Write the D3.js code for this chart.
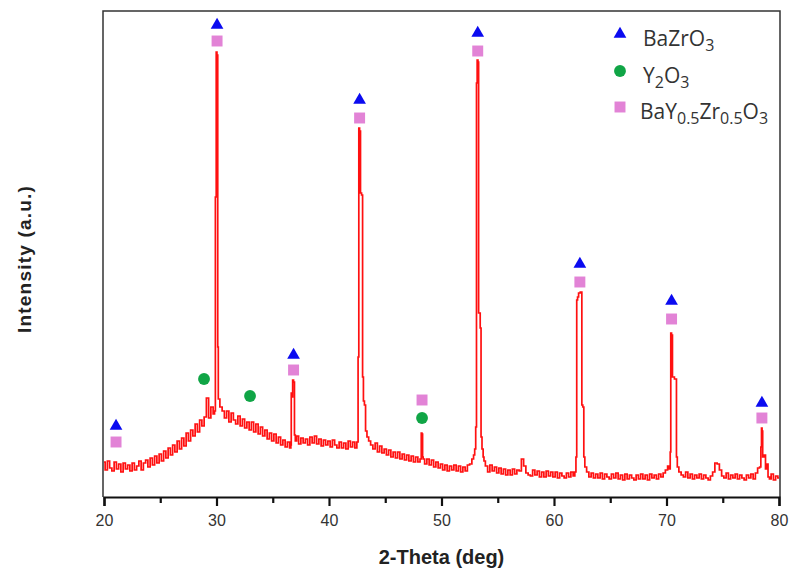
<!DOCTYPE html>
<html>
<head>
<meta charset="utf-8">
<script src="https://cdn.jsdelivr.net/npm/d3@7"></script>
<style>
    body { margin: 0; background: #fff; }
    svg { display: block; }
</style>
</head>
<body>
<svg id="xrd" width="789" height="574"></svg>
<script>
    // скан 20..80 град, шаг 0.2 - фон (интенсивность, у.е.)
    var scanStart = 20,
        scanStep = 0.2;
    var baseCounts = [
        35, 27, 36, 29, 26,  35, 28, 33, 25, 34,  28, 32, 26, 34, 27,  31, 36, 27, 34, 37,
        30, 39, 32, 41, 34,  43, 36, 46, 39, 49,  42, 52, 45, 56, 48,  59, 51, 64, 56, 67,
        61, 73, 65, 77, 71,  80, 99, 79, 90, 83,  90, 98, 90, 86, 79,  86, 75, 84, 77, 73,
        81, 71, 78, 69, 75,  67, 75, 65, 73, 63,  70, 61, 67, 58, 64,  56, 63, 54, 60, 52,
        57, 50, 55, 49, 52,  56, 61, 53, 59, 54,  58, 52, 60, 54, 61,  53, 58, 51, 57, 52,
        56, 50, 57, 52, 49,  55, 49, 54, 48, 56,  50, 55, 49, 55, 57,  60, 58, 59, 56, 52,
        48, 54, 45, 51, 44,  48, 42, 47, 40, 45,  39, 45, 38, 43, 37,  42, 36, 41, 35, 40,
        35, 39, 38, 33, 38,  32, 37, 30, 35, 29,  33, 27, 32, 26, 31,  27, 32, 26, 31, 25,
        30, 26, 32, 33, 38,  40, 42, 44, 40, 36,  31, 25, 32, 26, 30,  24, 29, 23, 28, 22,
        27, 22, 28, 23, 27,  26, 38, 31, 24, 22,  21, 27, 22, 26, 20,  25, 20, 26, 21, 25,
        20, 25, 19, 24, 21,  19, 24, 20, 25, 21,  25, 27, 30, 28, 26,  25, 20, 24, 19, 23,
        19, 24, 18, 23, 20,  18, 23, 19, 24, 18,  22, 17, 23, 18, 22,  19, 17, 22, 18, 23,
        18, 22, 17, 23, 19,  22, 18, 23, 20, 24,  27, 31, 30, 28, 26,  26, 25, 22, 20, 25,
        19, 23, 18, 22, 19,  23, 18, 22, 19, 17,  21, 25, 34, 33, 27,  21, 19, 24, 18, 22,
        19, 23, 18, 22, 19,  17, 22, 19, 23, 18,  24, 29, 30, 25, 22,  20, 18, 23, 17, 21,
        19
    ];

    // рефлексы: [2theta, интенсивность], заменяют фон внутри своего окна
    var peak30 = [[29.85, 86], [29.95, 300], [30.0, 445], [30.08, 442], [30.14, 150], [30.18, 98]];
    var peak37 = [[36.62, 52], [36.67, 104], [36.74, 100], [36.8, 117], [36.9, 115], [36.96, 62], [37.05, 56]];
    var peak43 = [[42.55, 55], [42.62, 140], [42.68, 369], [42.76, 366], [42.84, 304], [42.95, 302],
                  [43.02, 120], [43.1, 96], [43.2, 92], [43.3, 66], [43.45, 60]];
    var peak48 = [[48.18, 38], [48.22, 64], [48.3, 63], [48.34, 40]];
    var peak53 = [[52.9, 42], [53.0, 48], [53.08, 70], [53.14, 414], [53.2, 437], [53.28, 435],
                  [53.32, 184], [53.4, 184], [53.48, 169], [53.55, 60], [53.65, 48], [53.75, 40]];
    var peak62 = [[61.9, 25], [62.0, 40], [62.04, 197], [62.15, 200], [62.22, 204], [62.45, 205],
                  [62.5, 92], [62.62, 90], [62.68, 40], [62.8, 30]];
    var peak70 = [[70.3, 28], [70.36, 45], [70.4, 164], [70.5, 162], [70.56, 120], [70.85, 118],
                  [70.92, 40], [71.0, 30]];
    var peak78 = [[78.35, 30], [78.42, 50], [78.47, 69], [78.52, 66], [78.58, 40], [78.75, 42],
                  [78.85, 28], [78.95, 33], [79.1, 20]];
    var peaks = [peak30, peak37, peak43, peak48, peak53, peak62, peak70, peak78];

    // метки фаз
    var bazroPos = [21.07, 30.05, 36.85, 42.72, 53.22, 62.3, 70.45, 78.48],
        bazroHeight = [71, 472, 142, 397, 464, 233, 196, 94];
    var byzoPos = [21.07, 30.05, 36.85, 42.72, 48.27, 53.22, 62.3, 70.45, 78.48],
        byzoHeight = [55, 456, 127, 379, 97, 446, 215, 178, 79];
    var y2o3Pos = [28.89, 32.98, 48.27],
        y2o3Height = [118, 101, 79];

    var xTicks = [20, 30, 40, 50, 60, 70, 80],
        xMinorTicks = [25, 35, 45, 55, 65, 75];

    var legendItems = [
        { shape: 'triangle', color: '#0b0bf0', parts: [['BaZrO', 0], ['3', 1]] },
        { shape: 'circle', color: '#10a546', parts: [['Y', 0], ['2', 1], ['O', 0], ['3', 1]] },
        { shape: 'square', color: '#e283d6', parts: [['BaY', 0], ['0.5', 1], ['Zr', 0], ['0.5', 1], ['O', 0], ['3', 1]] }
    ];

    var svg = d3.select('#xrd'),
        plotLeft = 104, plotRight = 779, plotTop = 11, plotBottom = 497;

    var x = d3.scaleLinear().domain([20, 80]).range([plotLeft, plotRight]),
        y = d3.scaleLinear().domain([0, 486]).range([plotBottom, plotTop]);

    // собираем кривую: фон + рефлексы
    var points = [];
    baseCounts.forEach(function(v, i) {
        var t = scanStart + i * scanStep;
        var inPeak = peaks.some(function(p) { return t >= p[0][0] - 1e-6 && t <= p[p.length - 1][0] + 1e-6; });
        if (!inPeak) points.push([t, v]);
    });
    peaks.forEach(function(p) { points = points.concat(p); });
    points.sort(function(a, b) { return a[0] - b[0]; });

    // рамка
    svg.append('path')
        .attr('d', 'M' + (plotLeft - 1) + ',' + plotBottom + 'V' + plotTop + 'H' + (plotRight + 1) + 'V' + plotBottom)
        .attr('fill', 'none')
        .attr('stroke', '#333')
        .attr('stroke-width', 1.5);

    // ось X
    var xAxis = svg.append('g')
        .attr('transform', 'translate(0,' + plotBottom + ')')
        .call(d3.axisBottom(x).tickValues(xTicks).tickSize(9).tickPadding(9).tickFormat(d3.format('d')));
    xAxis.select('.domain').attr('stroke', '#111').attr('stroke-width', 2.2);
    xAxis.selectAll('.tick line').attr('stroke', '#111').attr('stroke-width', 2.2);
    xAxis.selectAll('.tick text')
        .attr('font-family', 'Liberation Sans, Arial, sans-serif')
        .attr('font-size', 16)
        .attr('fill', '#333');

    svg.append('g')
        .attr('transform', 'translate(0,' + plotBottom + ')')
        .call(d3.axisBottom(x).tickValues(xMinorTicks).tickSize(6).tickFormat(''))
        .call(function(g) { g.select('.domain').remove(); })
        .selectAll('.tick line').attr('stroke', '#111').attr('stroke-width', 2.2);

    // подписи осей
    svg.append('text')
        .attr('x', (plotLeft + plotRight) / 2)
        .attr('y', 564)
        .attr('text-anchor', 'middle')
        .attr('font-family', 'Liberation Sans, Arial, sans-serif')
        .attr('font-weight', 'bold')
        .attr('font-size', 20)
        .attr('fill', '#222')
        .text('2-Theta (deg)');

    svg.append('text')
        .attr('transform', 'translate(31,259) rotate(-90)')
        .attr('text-anchor', 'middle')
        .attr('font-family', 'Liberation Sans, Arial, sans-serif')
        .attr('font-weight', 'bold')
        .attr('font-size', 19)
        .attr('letter-spacing', 1.2)
        .attr('fill', '#222')
        .text('Intensity (a.u.)');

    // дифрактограмма (ступенчатая, как у прибора)
    var line = d3.line()
        .curve(d3.curveStep)
        .x(function(d) { return x(d[0]); })
        .y(function(d) { return y(d[1]); });

    svg.append('path')
        .datum(points)
        .attr('d', line)
        .attr('fill', 'none')
        .attr('stroke', '#ff1010')
        .attr('stroke-width', 1.7);

    // маркеры
    var triangle = d3.symbol().type(d3.symbolTriangle).size(70),
        square = d3.symbol().type(d3.symbolSquare).size(120),
        circle = d3.symbol().type(d3.symbolCircle).size(110);

    function markers(pos, height, sym, color) {
        svg.append('g')
            .selectAll('path')
            .data(pos)
            .enter()
            .append('path')
            .attr('transform', function(d, i) { return 'translate(' + x(d) + ',' + y(height[i]) + ')'; })
            .attr('d', sym)
            .attr('fill', color);
    }
    markers(bazroPos, bazroHeight, triangle, legendItems[0].color);
    markers(byzoPos, byzoHeight, square, legendItems[2].color);
    markers(y2o3Pos, y2o3Height, circle, legendItems[1].color);

    // легенда
    var symbols = { triangle: triangle, circle: circle, square: square };
    var legend = svg.append('g')
        .selectAll('g')
        .data(legendItems)
        .enter()
        .append('g')
        .attr('transform', function(d, i) { return 'translate(620,' + [34, 71, 107][i] + ')'; });

    legend.append('path')
        .attr('d', function(d) { return symbols[d.shape](); })
        .attr('fill', function(d) { return d.color; });

    var labels = legend.append('text')
        .attr('x', function(d, i) { return i === 2 ? 20 : 23; })
        .attr('y', 12)
        .attr('font-family', 'Open Sans, sans-serif')
        .attr('font-size', 21)
        .attr('fill', '#333');

    labels.selectAll('tspan')
        .data(function(d) { return d.parts; })
        .enter()
        .append('tspan')
        .attr('dy', function(p, i, nodes) {
            var prev = i > 0 ? d3.select(nodes[i - 1]).datum()[1] : 0;
            return (p[1] - prev) * 5;
        })
        .attr('font-size', function(p) { return p[1] ? 16 : 21; })
        .text(function(p) { return p[0]; });
</script>
</body>
</html>
